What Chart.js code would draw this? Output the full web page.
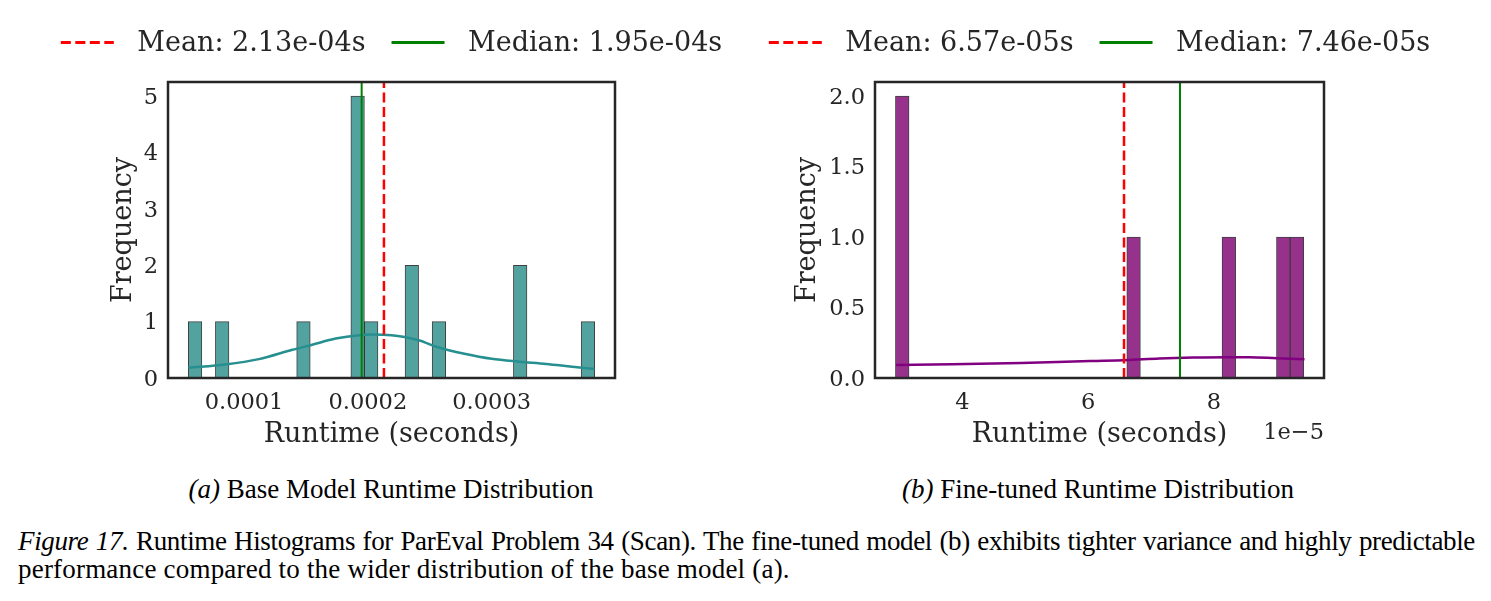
<!DOCTYPE html>
<html>
<head>
<meta charset="utf-8">
<script src="https://cdn.jsdelivr.net/npm/chart.js@4.4.0/dist/chart.umd.min.js"></script>
<style>
html,body{margin:0;padding:0;background:#fff;width:1491px;height:601px;overflow:hidden;position:relative;}
canvas{position:absolute;top:0;}
#chartA{left:0;}
#chartB{left:745px;}
.sub{position:absolute;width:600px;text-align:center;font-family:'Liberation Serif','Times New Roman',serif;font-size:27px;line-height:30px;color:#000;white-space:nowrap;}
.cap{position:absolute;left:18px;font-family:'Liberation Serif','Times New Roman',serif;font-size:27px;line-height:28px;color:#000;white-space:nowrap;}
</style>
</head>
<body>
<canvas id="chartA" width="745" height="470"></canvas>
<canvas id="chartB" width="746" height="470"></canvas>
<div class="sub" style="left:91px;top:474px;"><i>(a)</i> Base Model Runtime Distribution</div>
<div class="sub" style="left:798px;top:474px;"><i>(b)</i> Fine-tuned Runtime Distribution</div>
<div class="cap" style="top:527px;width:1457px;letter-spacing:-0.35px;text-align:justify;text-align-last:justify;"><i>Figure 17.</i> Runtime Histograms for ParEval Problem 34 (Scan). The fine-tuned model (b) exhibits tighter variance and highly predictable</div>
<div class="cap" style="top:555px;letter-spacing:0.2px;">performance compared to the wider distribution of the base model (a).</div>
<script>
// ---------------- data ----------------
// (a) Base model: 30 histogram bins
const baseBinStart = 5.5e-5;
const baseBinWidth = 1.094e-5;
const baseCounts = [1,0,1,0,0,0,0,0,1,0,0,0,5,1,0,0,2,0,1,0,0,0,0,0,2,0,0,0,0,1];
const baseKdeX = [5.5e-5,8.5e-5,11.2e-5,13.9e-5,15.5e-5,17.4e-5,19.3e-5,20.3e-5,21.9e-5,24.1e-5,25.6e-5,27.8e-5,30.0e-5,32.2e-5,34.4e-5,36.5e-5,38.3e-5];
const baseKdeY = [0.18,0.24,0.335,0.50,0.59,0.70,0.76,0.77,0.76,0.67,0.55,0.43,0.34,0.29,0.25,0.20,0.16];
const baseMean = 2.13e-4;
const baseMedian = 1.95e-4;
const baseXTicks = [1e-4, 2e-4, 3e-4];
const baseXTickLabels = ['0.0001','0.0002','0.0003'];
const baseYTicks = [0,1,2,3,4,5];
const baseYTickLabels = ['0','1','2','3','4','5'];
const baseXRange = [3.86e-5, 3.996e-4];
const baseYMax = 5.25;

// (b) Fine-tuned: 30 histogram bins
const ftBinStart = 2.935e-5;
const ftBinWidth = 2.164e-6;
const ftCounts = [2,0,0,0,0,0,0,0,0,0,0,0,0,0,0,0,0,1,0,0,0,0,0,0,1,0,0,0,1,1];
const ftKdeX = [2.945e-5,3.835e-5,4.934e-5,6.033e-5,6.58e-5,7.13e-5,7.68e-5,8.23e-5,8.56e-5,9.0e-5,9.44e-5];
const ftKdeY = [0.093,0.098,0.107,0.121,0.126,0.138,0.145,0.148,0.148,0.140,0.133];
const ftMean = 6.57e-5;
const ftMedian = 7.46e-5;
const ftXTicks = [4e-5, 6e-5, 8e-5];
const ftXTickLabels = ['4','6','8'];
const ftYTicks = [0,0.5,1,1.5,2];
const ftYTickLabels = ['0.0','0.5','1.0','1.5','2.0'];
const ftXRange = [2.61e-5, 9.75e-5];
const ftYMax = 2.1;

// ---------------- styling ----------------
const FONT = "'DejaVu Serif', serif";
const TXT = '#262626';

const framePlugin = {
  id: 'frame',
  afterDatasetsDraw(chart) {
    const {ctx, chartArea: a} = chart;
    ctx.save();
    ctx.strokeStyle = TXT;
    ctx.lineWidth = 2.5;
    ctx.strokeRect(a.left, a.top, a.right - a.left, a.bottom - a.top);
    ctx.restore();
  }
};

const legendPlugin = {
  id: 'topLegend',
  afterDraw(chart) {
    const ctx = chart.ctx;
    const items = chart.data.datasets.filter(d => d.inLegend);
    ctx.save();
    ctx.font = '27px ' + FONT;
    const lineLen = 53, gap = 23.5, sep = 26, y = 43.5;
    const widths = items.map(d => lineLen + gap + ctx.measureText(d.label).width);
    const total = widths.reduce((s, w) => s + w, 0) + sep * (items.length - 1);
    let x = (chart.chartArea.left + chart.chartArea.right) / 2 - total / 2;
    items.forEach((d, i) => {
      ctx.beginPath();
      ctx.setLineDash(d.borderDash || []);
      ctx.strokeStyle = d.borderColor;
      ctx.lineWidth = 3;
      ctx.moveTo(x, y - 1);
      ctx.lineTo(x + lineLen, y - 1);
      ctx.stroke();
      ctx.setLineDash([]);
      ctx.fillStyle = TXT;
      ctx.textBaseline = 'middle';
      ctx.textAlign = 'left';
      ctx.fillText(d.label, x + lineLen + gap, y);
      x += widths[i] + sep;
    });
    ctx.restore();
  }
};

function offsetPlugin(text) {
  return {
    id: 'offsetText',
    afterDraw(chart) {
      const ctx = chart.ctx;
      ctx.save();
      ctx.font = '22.5px ' + FONT;
      ctx.fillStyle = TXT;
      ctx.textAlign = 'right';
      ctx.textBaseline = 'middle';
      ctx.fillText(text, chart.chartArea.right, 433);
      ctx.restore();
    }
  };
}

function fmtSci(v) {
  const e = v.toExponential(2).split('e');
  const exp = parseInt(e[1], 10);
  const sign = exp < 0 ? '-' : '+';
  return e[0] + 'e' + sign + String(Math.abs(exp)).padStart(2, '0') + 's';
}

function buildChart(id, o) {
  const centers = o.counts.map((_, i) => o.binStart + (i + 0.5) * o.binWidth);
  const datasets = [
    {
      type: 'bar', label: 'hist',
      data: centers.map((x, i) => ({x: x, y: o.counts[i]})),
      backgroundColor: o.fill, borderColor: 'rgba(0,0,0,0.75)', borderWidth: 1,
      borderSkipped: false, barPercentage: 1, categoryPercentage: 1, grouped: false, order: 3
    },
    {
      type: 'line', label: 'kde',
      data: o.kdeX.map((x, i) => ({x: x, y: o.kdeY[i]})),
      borderColor: o.line, borderWidth: 2.5, pointRadius: 0, fill: false,
      cubicInterpolationMode: 'monotone', order: 2
    },
    {
      type: 'line', label: 'Mean: ' + fmtSci(o.mean), inLegend: true,
      data: [{x: o.mean, y: 0}, {x: o.mean, y: o.yMax}],
      borderColor: '#ff0000', borderDash: [10, 4.5], borderWidth: 2.5, pointRadius: 0, fill: false, order: 1
    },
    {
      type: 'line', label: 'Median: ' + fmtSci(o.median), inLegend: true,
      data: [{x: o.median, y: 0}, {x: o.median, y: o.yMax}],
      borderColor: '#008000', borderWidth: 2, pointRadius: 0, fill: false, order: 0
    }
  ];
  const plugins = [framePlugin, legendPlugin];
  if (o.offsetText) plugins.push(offsetPlugin(o.offsetText));
  return new Chart(document.getElementById(id), {
    type: 'bar',
    data: {datasets: datasets},
    plugins: plugins,
    options: {
      responsive: false,
      animation: false,
      events: [],
      layout: {padding: {left: o.padLeft, right: o.padRight, top: 82, bottom: 0}},
      plugins: {legend: {display: false}, tooltip: {enabled: false}},
      scales: {
        x: {
          type: 'linear', min: o.xRange[0], max: o.xRange[1], offset: false,
          grid: {display: false, drawTicks: false}, border: {display: false},
          afterBuildTicks: s => { s.ticks = o.xTicks.map(v => ({value: v})); },
          afterFit: s => { s.height = 92; },
          ticks: {
            callback: (v, i) => o.xTickLabels[i],
            font: {family: FONT, size: 22.5}, color: TXT, padding: 12,
            maxRotation: 0, autoSkip: false
          },
          title: {display: true, text: 'Runtime (seconds)', font: {family: FONT, size: 27}, color: TXT, padding: {top: 0, bottom: 19}}
        },
        y: {
          type: 'linear', position: 'left', min: 0, max: o.yMax,
          grid: {display: false, drawTicks: false}, border: {display: false},
          afterBuildTicks: s => { s.ticks = o.yTicks.map(v => ({value: v})); },
          afterFit: s => { s.width = o.yWidth; },
          ticks: {
            callback: (v, i) => o.yTickLabels[i],
            font: {family: FONT, size: 22.5}, color: TXT, padding: 10, autoSkip: false, labelOffset: 2
          },
          title: {display: true, text: 'Frequency', font: {family: FONT, size: 27}, color: TXT, padding: {top: 12, bottom: 0}}
        }
      }
    }
  });
}

buildChart('chartA', {
  counts: baseCounts, binStart: baseBinStart, binWidth: baseBinWidth,
  kdeX: baseKdeX, kdeY: baseKdeY, mean: baseMean, median: baseMedian,
  xTicks: baseXTicks, xTickLabels: baseXTickLabels, yTicks: baseYTicks, yTickLabels: baseYTickLabels,
  xRange: baseXRange, yMax: baseYMax,
  fill: 'rgb(82,163,160)', line: 'rgb(38,143,143)',
  padLeft: 96, padRight: 130, yWidth: 72
});

buildChart('chartB', {
  counts: ftCounts, binStart: ftBinStart, binWidth: ftBinWidth,
  kdeX: ftKdeX, kdeY: ftKdeY, mean: ftMean, median: ftMedian,
  xTicks: ftXTicks, xTickLabels: ftXTickLabels, yTicks: ftYTicks, yTickLabels: ftYTickLabels,
  xRange: ftXRange, yMax: ftYMax,
  fill: 'rgb(150,50,140)', line: 'rgb(128,0,128)',
  padLeft: 35, padRight: 167, yWidth: 95,
  offsetText: '1e\u22125'
});
</script>
</body>
</html>
